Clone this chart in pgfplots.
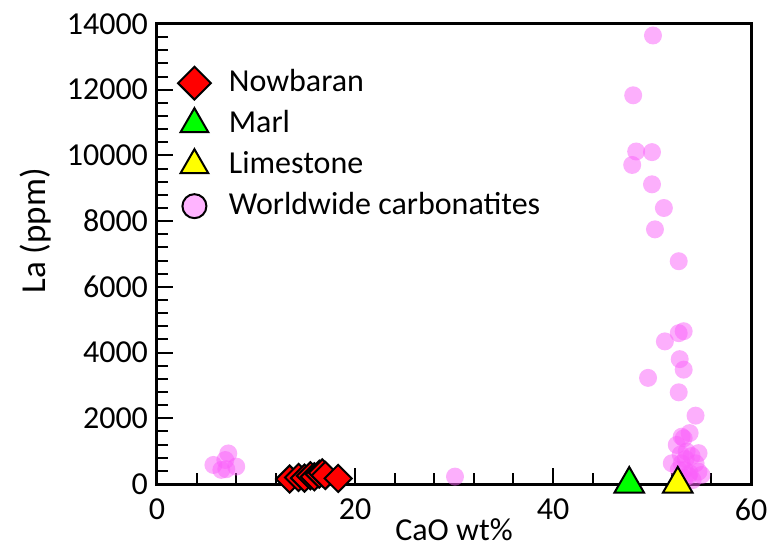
\documentclass[border=0pt]{standalone}
\usepackage{pgfplots}
\pgfplotsset{compat=1.18}
\usepackage{fontspec}
\setmainfont{Carlito}

\definecolor{carbpink}{RGB}{250,95,250}
\definecolor{legpink}{RGB}{255,180,255}
\definecolor{nowred}{RGB}{255,0,0}
\definecolor{marlgreen}{RGB}{0,255,0}
\definecolor{limeyellow}{RGB}{255,255,0}

\newcommand{\lbl}{\fontsize{16}{19}\selectfont}

\begin{document}
\begin{tikzpicture}
\begin{axis}[
  name=ax,
  scale only axis,
  width=297pt, height=230pt,
  xmin=0, xmax=60, ymin=0, ymax=14000,
  xtick={0,20,40,60}, minor x tick num=4,
  ytick={0,2000,...,14000}, minor y tick num=4,
  xtick pos=bottom, ytick pos=left,
  tick align=inside,
  major tick length=8pt, minor tick length=5.5pt,
  every tick/.style={black, line width=1pt},
  axis line style={line width=1.5pt},
  axis on top,
  clip=false,
  scaled y ticks=false,
  /pgf/number format/1000 sep={},
  /pgf/number format/assume math mode=true,
  every tick label/.append style={font=\lbl},
  xticklabel style={yshift=-4pt},
  yticklabel style={xshift=-1pt},
  xlabel={CaO wt\%},
  ylabel={La (ppm)},
  xlabel style={font=\lbl, at={(axis description cs:0.5,-0.0985)}, anchor=center},
  ylabel style={font=\fontsize{17.5}{21}\selectfont, at={(axis description cs:-0.205,0.55)}, anchor=center, rotate=0},
  legend cell align=left,
  legend style={
    at={(axis description cs:0.0354,0.9105)}, anchor=north west,
    draw=none, fill=none, inner sep=0pt, outer sep=0pt,
    font=\lbl, row sep=2.5pt, column sep=8pt,
    nodes={inner sep=1pt, text height=12pt, text depth=4pt},
  },
]

% Worldwide carbonatites
\addplot[only marks, mark=*, mark size=4.5pt,
  mark options={draw opacity=0, line width=0pt, fill=carbpink, fill opacity=0.5}, forget plot]
  table {
x y
5.7 580
6.5 430
6.9 730
7.2 930
8.0 530
7.0 450
30.1 225
50.1 13650
48.1 11830
48.4 10120
50.0 10100
48.0 9710
50.0 9120
51.2 8400
50.3 7750
52.7 6780
53.2 4650
52.7 4590
51.3 4340
52.8 3800
53.2 3480
49.6 3230
52.7 2790
54.4 2080
53.8 1550
53.0 1440
53.2 1390
52.5 1190
53.5 990
54.7 940
54.0 850
52.9 900
53.4 760
52.0 630
53.0 630
54.4 630
52.7 430
53.3 425
54.7 375
53.8 330
55.0 275
53.7 250
53.3 180
54.1 120
};

% Nowbaran
\addplot[only marks, mark=square*, mark size=4.8pt,
  mark options={rotate=45, draw=black, line width=1pt, fill=nowred}, forget plot]
  table {
x y
13.4 150
14.3 200
14.9 180
15.5 250
15.9 220
16.4 300
16.7 340
17.0 260
18.3 170
};

% Marl
\addplot[only marks, mark=triangle*, mark size=8.5pt,
  mark options={draw=black, line width=1pt, fill=marlgreen}, forget plot]
  table {
x y
47.7 0
};

% Limestone
\addplot[only marks, mark=triangle*, mark size=8.5pt,
  mark options={draw=black, line width=1pt, fill=limeyellow}, forget plot]
  table {
x y
52.6 0
};

\addlegendimage{only marks, mark=square*, mark size=5.8pt,
  mark options={rotate=45, draw=black, line width=1pt, fill=nowred}}
\addlegendentry{Nowbaran}
\addlegendimage{only marks, mark=triangle*, mark size=8pt,
  mark options={draw=black, line width=1pt, fill=marlgreen}}
\addlegendentry{Marl}
\addlegendimage{only marks, mark=triangle*, mark size=8pt,
  mark options={draw=black, line width=1pt, fill=limeyellow}}
\addlegendentry{Limestone}
\addlegendimage{only marks, mark=*, mark size=6pt,
  mark options={draw=black, line width=1pt, fill=legpink}}
\addlegendentry{Worldwide carbonatites}
\end{axis}
\pgfresetboundingbox
\path ([xshift=-78.5pt,yshift=-31pt]ax.south west) rectangle ([xshift=9.5pt,yshift=12pt]ax.north east);
\end{tikzpicture}
\end{document}
